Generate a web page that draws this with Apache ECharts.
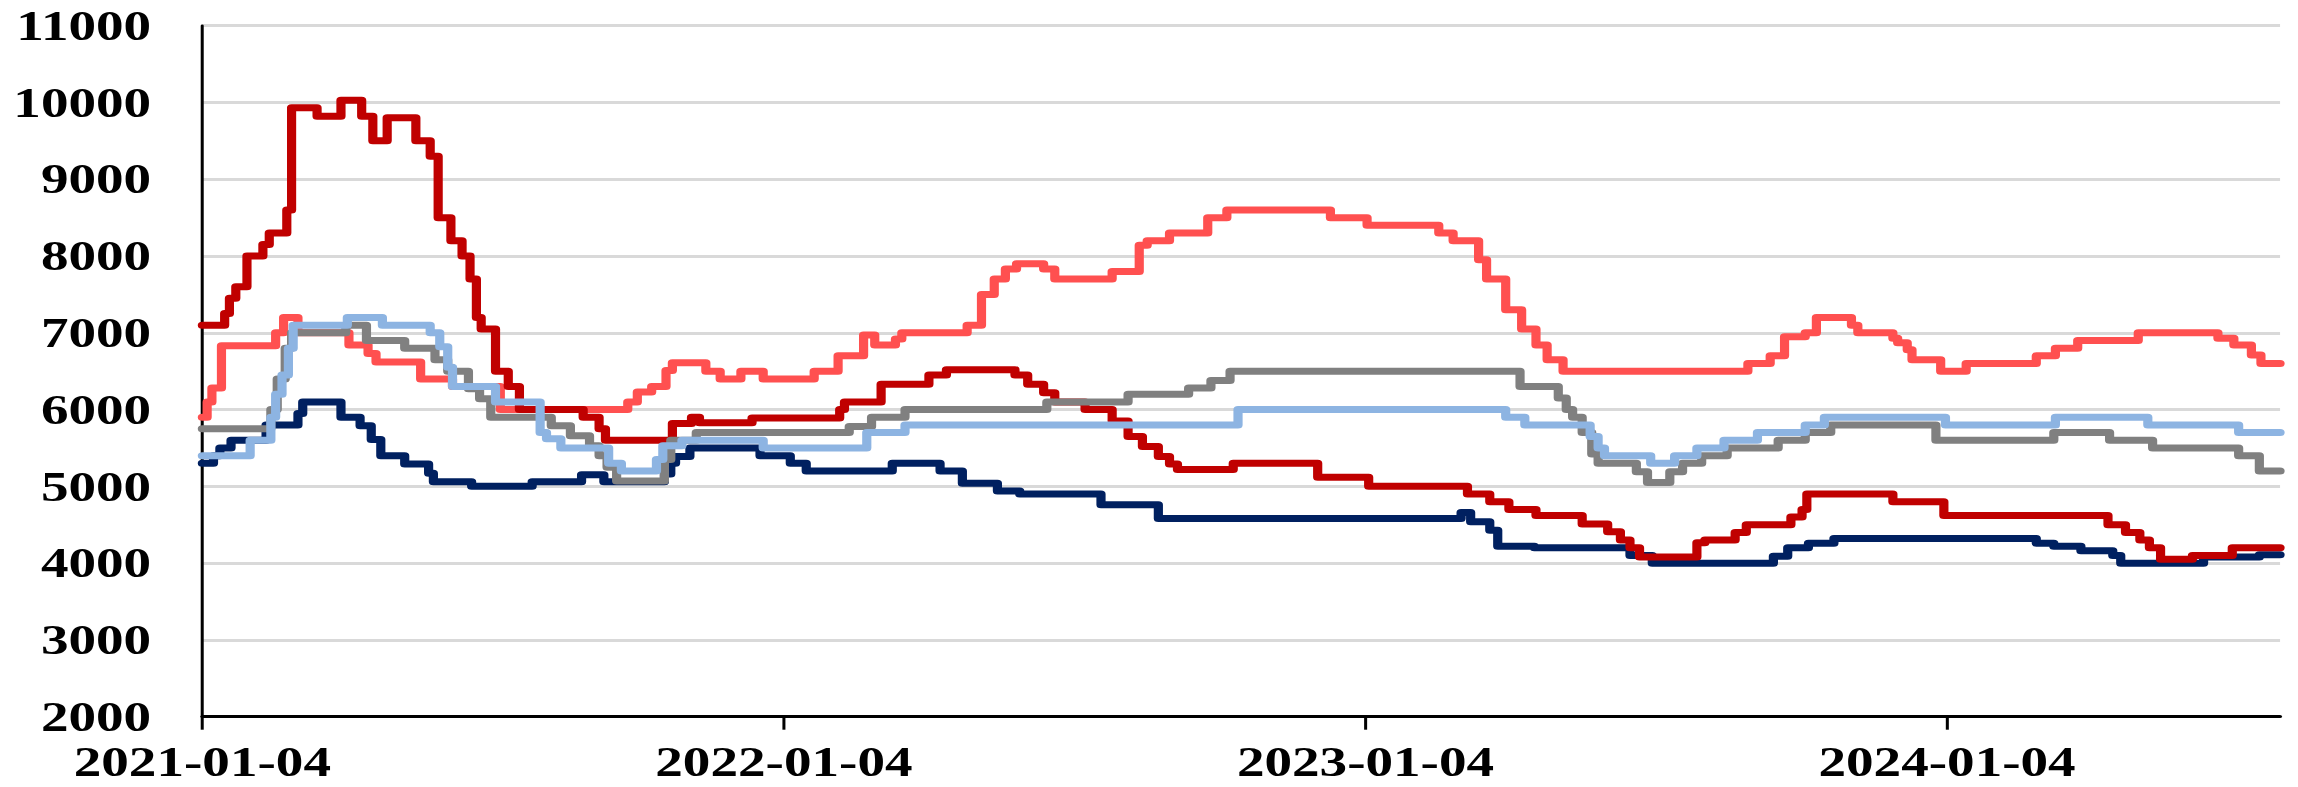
<!DOCTYPE html>
<html>
<head>
<meta charset="utf-8">
<title>Price series 2021-2024</title>
<script src="https://cdn.jsdelivr.net/npm/echarts@6/dist/echarts.min.js"></script>
<style>
  html, body { margin: 0; padding: 0; background: #ffffff; overflow: hidden; }
  #wrap { width: 2298px; height: 787px; overflow: hidden; }
  /* the chart is laid out 1750px wide and stretched horizontally to fill the page */
  #chart { width: 1750px; height: 787px; transform: scaleX(1.3131); transform-origin: 0 0; }
</style>
</head>
<body>
<div id="wrap"><div id="chart"></div></div>
<script>
// x-axis tick labels (one per year)
const xTickLabels = ['2021-01-04', '2022-01-04', '2023-01-04', '2024-01-04'];
const xEnd = '2024-07-31';

// y-axis range
const yMin = 2000, yMax = 11000, yStep = 1000;

// each series: [date the level starts, level]
const darkRedSeries = [
  ['2021-01-04', 7100], ['2021-01-18', 7250], ['2021-01-21', 7450], ['2021-01-25', 7600],
  ['2021-02-01', 8000], ['2021-02-11', 8150], ['2021-02-15', 8300], ['2021-02-26', 8600],
  ['2021-03-01', 9930], ['2021-03-17', 9820], ['2021-04-01', 10030], ['2021-04-14', 9820],
  ['2021-04-21', 9500], ['2021-04-30', 9800], ['2021-05-18', 9500], ['2021-05-27', 9300],
  ['2021-06-01', 8500], ['2021-06-09', 8200], ['2021-06-16', 8000], ['2021-06-21', 7700],
  ['2021-06-25', 7200], ['2021-06-28', 7050], ['2021-07-07', 6500], ['2021-07-15', 6300],
  ['2021-07-22', 6000], ['2021-08-31', 5900], ['2021-09-10', 5750], ['2021-09-14', 5600],
  ['2021-10-26', 5820], ['2021-11-07', 5900], ['2021-11-12', 5830], ['2021-12-15', 5890],
  ['2022-02-08', 6000], ['2022-02-11', 6100], ['2022-03-06', 6330], ['2022-04-05', 6450],
  ['2022-04-16', 6520], ['2022-05-29', 6450], ['2022-06-06', 6330], ['2022-06-16', 6220],
  ['2022-06-23', 6100], ['2022-07-12', 6000], ['2022-07-29', 5850], ['2022-08-08', 5650],
  ['2022-08-17', 5520], ['2022-08-27', 5390], ['2022-09-03', 5290], ['2022-09-08', 5220],
  ['2022-10-13', 5300], ['2022-12-05', 5120], ['2023-01-06', 5000], ['2023-03-09', 4900],
  ['2023-03-23', 4800], ['2023-04-04', 4700], ['2023-04-21', 4620], ['2023-05-20', 4510],
  ['2023-06-05', 4410], ['2023-06-13', 4300], ['2023-06-19', 4200], ['2023-06-25', 4080],
  ['2023-07-31', 4265], ['2023-08-05', 4300], ['2023-08-24', 4400], ['2023-08-31', 4500],
  ['2023-09-28', 4600], ['2023-10-05', 4700], ['2023-10-08', 4900], ['2023-12-01', 4800],
  ['2024-01-02', 4620], ['2024-04-14', 4500], ['2024-04-25', 4400], ['2024-05-04', 4300],
  ['2024-05-10', 4200], ['2024-05-17', 4050], ['2024-06-06', 4100], ['2024-07-01', 4200],
  ['2024-07-31', 4200]
];

const lightRedSeries = [
  ['2021-01-04', 5900], ['2021-01-07', 6100], ['2021-01-10', 6280], ['2021-01-16', 6830],
  ['2021-02-19', 7000], ['2021-02-24', 7200], ['2021-03-05', 7000], ['2021-04-06', 6840],
  ['2021-04-18', 6730], ['2021-04-23', 6620], ['2021-05-21', 6400], ['2021-06-10', 6300],
  ['2021-07-10', 6000], ['2021-09-28', 6100], ['2021-10-04', 6230], ['2021-10-13', 6300],
  ['2021-10-22', 6510], ['2021-10-26', 6610], ['2021-11-16', 6500], ['2021-11-25', 6400],
  ['2021-12-08', 6500], ['2021-12-22', 6400], ['2022-01-23', 6500], ['2022-02-07', 6700],
  ['2022-02-23', 6970], ['2022-03-02', 6840], ['2022-03-15', 6920], ['2022-03-19', 7000],
  ['2022-04-29', 7100], ['2022-05-08', 7500], ['2022-05-16', 7700], ['2022-05-23', 7830],
  ['2022-05-30', 7900], ['2022-06-16', 7830], ['2022-06-23', 7700], ['2022-07-29', 7800],
  ['2022-08-15', 8140], ['2022-08-20', 8200], ['2022-09-03', 8300], ['2022-09-27', 8500],
  ['2022-10-09', 8600], ['2022-12-13', 8500], ['2023-01-05', 8400], ['2023-02-19', 8300],
  ['2023-02-28', 8200], ['2023-03-16', 7950], ['2023-03-21', 7700], ['2023-04-02', 7300],
  ['2023-04-12', 7050], ['2023-04-21', 6840], ['2023-04-28', 6650], ['2023-05-08', 6500],
  ['2023-09-01', 6600], ['2023-09-15', 6700], ['2023-09-24', 6950], ['2023-10-07', 7000],
  ['2023-10-14', 7200], ['2023-11-05', 7100], ['2023-11-09', 7000], ['2023-12-01', 6930],
  ['2023-12-04', 6870], ['2023-12-10', 6780], ['2023-12-13', 6650], ['2023-12-31', 6500],
  ['2024-01-16', 6600], ['2024-02-29', 6700], ['2024-03-12', 6800], ['2024-03-26', 6900],
  ['2024-05-03', 7000], ['2024-06-22', 6930], ['2024-07-02', 6840], ['2024-07-13', 6710],
  ['2024-07-19', 6600], ['2024-07-31', 6600]
];

const graySeries = [
  ['2021-01-04', 5750], ['2021-02-16', 6000], ['2021-02-20', 6400], ['2021-02-25', 6800],
  ['2021-03-01', 7000], ['2021-04-04', 7100], ['2021-04-17', 6900], ['2021-05-11', 6800],
  ['2021-05-30', 6650], ['2021-06-07', 6500], ['2021-06-20', 6270], ['2021-06-27', 6140],
  ['2021-07-04', 5900], ['2021-08-11', 5790], ['2021-08-23', 5660], ['2021-09-04', 5530],
  ['2021-09-10', 5400], ['2021-09-15', 5250], ['2021-09-21', 5070], ['2021-10-21', 5350],
  ['2021-10-25', 5600], ['2021-11-10', 5700], ['2022-02-14', 5780], ['2022-02-28', 5900],
  ['2022-03-21', 6000], ['2022-06-18', 6100], ['2022-08-08', 6200], ['2022-09-15', 6280],
  ['2022-09-29', 6380], ['2022-10-11', 6500], ['2023-04-11', 6300], ['2023-05-05', 6150],
  ['2023-05-10', 6000], ['2023-05-14', 5900], ['2023-05-20', 5700], ['2023-05-26', 5420],
  ['2023-05-30', 5300], ['2023-06-23', 5190], ['2023-06-30', 5050], ['2023-07-14', 5190],
  ['2023-07-22', 5300], ['2023-08-03', 5400], ['2023-08-19', 5500], ['2023-09-20', 5600],
  ['2023-10-07', 5700], ['2023-10-23', 5800], ['2023-12-28', 5600], ['2024-03-11', 5700],
  ['2024-04-15', 5600], ['2024-05-12', 5500], ['2024-07-05', 5400], ['2024-07-18', 5200],
  ['2024-07-31', 5200]
];

const lightBlueSeries = [
  ['2021-01-04', 5400], ['2021-02-03', 5600], ['2021-02-16', 5900], ['2021-02-19', 6200],
  ['2021-02-23', 6450], ['2021-02-27', 6800], ['2021-03-02', 7100], ['2021-04-05', 7200],
  ['2021-04-27', 7100], ['2021-05-27', 7000], ['2021-06-02', 6820], ['2021-06-07', 6550],
  ['2021-06-10', 6300], ['2021-07-07', 6100], ['2021-08-04', 5700], ['2021-08-08', 5620],
  ['2021-08-17', 5500], ['2021-09-16', 5300], ['2021-09-24', 5200], ['2021-10-16', 5350],
  ['2021-10-20', 5530], ['2021-11-01', 5600], ['2021-12-22', 5500], ['2022-02-25', 5700],
  ['2022-03-21', 5800], ['2022-10-16', 6000], ['2023-04-02', 5900], ['2023-04-14', 5800],
  ['2023-05-25', 5650], ['2023-05-30', 5500], ['2023-06-03', 5400], ['2023-07-02', 5300],
  ['2023-07-17', 5400], ['2023-07-31', 5500], ['2023-08-17', 5600], ['2023-09-07', 5700],
  ['2023-10-07', 5800], ['2023-10-19', 5900], ['2024-01-03', 5800], ['2024-03-12', 5900],
  ['2024-05-09', 5800], ['2024-07-05', 5700], ['2024-07-31', 5700]
];

const navySeries = [
  ['2021-01-04', 5300], ['2021-01-11', 5400], ['2021-01-15', 5500], ['2021-01-22', 5600],
  ['2021-02-13', 5800], ['2021-03-05', 5950], ['2021-03-08', 6100], ['2021-04-01', 5900],
  ['2021-04-13', 5790], ['2021-04-20', 5610], ['2021-04-26', 5400], ['2021-05-11', 5290],
  ['2021-05-26', 5170], ['2021-05-29', 5060], ['2021-06-22', 5000], ['2021-07-30', 5060],
  ['2021-08-30', 5150], ['2021-09-13', 5060], ['2021-10-21', 5160], ['2021-10-25', 5300],
  ['2021-10-28', 5390], ['2021-11-06', 5500], ['2021-12-20', 5400], ['2022-01-08', 5300],
  ['2022-01-18', 5200], ['2022-03-13', 5300], ['2022-04-12', 5200], ['2022-04-26', 5040],
  ['2022-05-18', 4940], ['2022-06-01', 4900], ['2022-07-22', 4760], ['2022-08-27', 4580],
  ['2023-03-05', 4660], ['2023-03-11', 4540], ['2023-03-23', 4430], ['2023-03-28', 4220],
  ['2023-04-20', 4200], ['2023-06-19', 4100], ['2023-07-03', 4000], ['2023-09-17', 4090],
  ['2023-09-26', 4200], ['2023-10-09', 4260], ['2023-10-25', 4320], ['2024-02-29', 4260],
  ['2024-03-11', 4220], ['2024-03-28', 4160], ['2024-04-17', 4100], ['2024-04-22', 4000],
  ['2024-06-13', 4080], ['2024-07-18', 4110], ['2024-07-31', 4110]
];

// x positions are days counted from the first date
const day0 = Date.parse(xTickLabels[0]);
const toDay = s => Math.round((Date.parse(s) - day0) / 86400000);
const toPoints = rows => rows.map(r => [toDay(r[0]), r[1]]);
const tickDays = xTickLabels.map(toDay);

const font = '"Liberation Serif", "Times New Roman", serif';

function lineSeries(rows, color) {
  return {
    type: 'line',
    step: 'end',
    data: toPoints(rows),
    showSymbol: false,
    symbol: 'none',
    lineStyle: { color: color, width: 7, join: 'round', cap: 'round' },
    emphasis: { disabled: true },
    animation: false
  };
}

const chart = echarts.init(document.getElementById('chart'), null, { renderer: 'svg' });
chart.setOption({
  backgroundColor: '#ffffff',
  animation: false,
  grid: { left: 154.1, right: 13.6, top: 25.7, bottom: 70.3, containLabel: false },
  xAxis: {
    type: 'value',
    min: 0,
    max: toDay(xEnd),
    interval: 365,
    axisLine: { show: true, lineStyle: { color: '#000000', width: 3 } },
    axisTick: { show: true, length: 13, customValues: tickDays, lineStyle: { color: '#000000', width: 2.3 } },
    axisLabel: {
      customValues: tickDays,
      margin: 24,
      fontFamily: font, fontWeight: 'bold', fontSize: 42, color: '#000000',
      formatter: v => {
        const i = tickDays.indexOf(Math.round(v));
        return i >= 0 ? xTickLabels[i] : '';
      }
    },
    splitLine: { show: false }
  },
  yAxis: {
    type: 'value',
    min: yMin,
    max: yMax,
    interval: yStep,
    axisLine: { show: true, lineStyle: { color: '#000000', width: 2.3 } },
    axisTick: { show: false },
    axisLabel: {
      margin: 39, fontFamily: font, fontWeight: 'bold', fontSize: 42, color: '#000000',
      formatter: v => String(v)
    },
    splitLine: { show: true, lineStyle: { color: '#D9D9D9', width: 3 } }
  },
  series: [
    lineSeries(navySeries, '#002060'),
    lineSeries(lightRedSeries, '#FF5050'),
    lineSeries(darkRedSeries, '#C00000'),
    lineSeries(graySeries, '#808080'),
    lineSeries(lightBlueSeries, '#8DB4E2')
  ]
});
</script>
</body>
</html>
